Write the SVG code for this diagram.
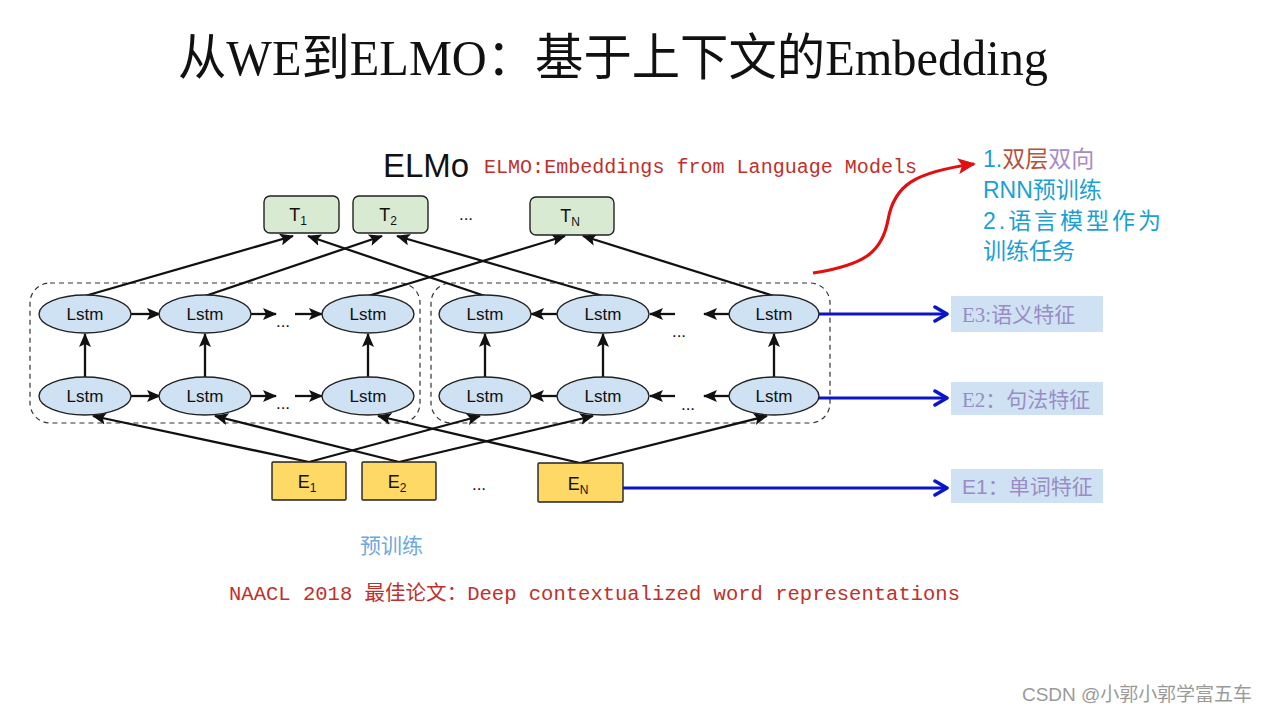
<svg xmlns="http://www.w3.org/2000/svg" width="1268" height="714" viewBox="0 0 1268 714">
<style>
.lstm ellipse{fill:#cfe2f3;stroke:#222;stroke-width:1.4}
.lstm text,.tnode text,.enode text{font-family:"Liberation Sans",Arial,sans-serif;font-size:17px;fill:#111;text-anchor:middle}
.tnode text,.enode text{font-size:18px}
.tnode rect{fill:#d9ead3;stroke:#222;stroke-width:1.4}
.enode rect{fill:#ffd966;stroke:#222;stroke-width:1.4}
.sub{font-size:12px}
.ka{stroke:#111;stroke-width:2.3;fill:none;marker-end:url(#ah)}
.blue{stroke:#0a14c8;stroke-width:3;fill:none;marker-end:url(#bh)}
.dash{fill:none;stroke:#333;stroke-width:1.2;stroke-dasharray:5 4}
.dots{font-family:"Liberation Sans",Arial,sans-serif;font-size:17px;fill:#111;text-anchor:middle}
.lab rect{fill:#cfe2f3}
.lab text{font-family:"Liberation Serif","Noto Sans CJK SC",serif;font-size:21px;fill:#9a8cc4}
.red{font-family:"Liberation Mono","Noto Sans CJK SC",monospace;fill:#c0302a}
.side{font-family:"Liberation Sans","Noto Sans CJK SC",sans-serif;font-size:23px;fill:#1b9fd6}
</style>
<defs>
<marker id="ah" markerUnits="userSpaceOnUse" markerWidth="14" markerHeight="12" viewBox="0 0 14 12" refX="13" refY="6" orient="auto">
<path d="M0,0 L14,6 L0,12 L3,6 Z" fill="#111"/>
</marker>
<marker id="bh" markerUnits="userSpaceOnUse" markerWidth="16" markerHeight="18" viewBox="0 0 16 18" refX="14" refY="9" orient="auto">
<path d="M2,2 L14,9 L2,16" fill="none" stroke="#0a14c8" stroke-width="3.5" stroke-linecap="round" stroke-linejoin="round"/>
</marker>
<marker id="rh" markerUnits="userSpaceOnUse" markerWidth="18" markerHeight="16" viewBox="0 0 18 16" refX="16" refY="8" orient="auto">
<path d="M0,0 L18,8 L0,16 L4,8 Z" fill="#e01010"/>
</marker>
</defs>
<rect width="1268" height="714" fill="#fff"/>

<g id="title">
<text x="178" y="75" font-family="Liberation Serif,'Noto Sans CJK SC',serif" font-size="50" textLength="870" lengthAdjust="spacingAndGlyphs" fill="#111">从WE到ELMO：基于上下文的Embedding</text>
</g>

<g id="elmo-title">
<text x="383" y="177" font-family="Liberation Sans,Arial,sans-serif" font-size="33" fill="#111">ELMo</text>
<text x="484" y="173" class="red" font-size="20" textLength="433" lengthAdjust="spacingAndGlyphs">ELMO:Embeddings from Language Models</text>
</g>

<g id="groups">
<rect class="dash" x="30" y="283" width="390" height="140" rx="20"/>
<rect class="dash" x="431" y="283" width="399" height="140" rx="20"/>
</g>

<g id="connectors">
<line class="ka" x1="85" y1="296" x2="293" y2="236"/>
<line class="ka" x1="205" y1="296" x2="382" y2="236"/>
<line class="ka" x1="368" y1="296" x2="565" y2="236"/>
<line class="ka" x1="485" y1="296" x2="308" y2="236"/>
<line class="ka" x1="603" y1="296" x2="397" y2="236"/>
<line class="ka" x1="774" y1="296" x2="583" y2="236"/>
<line class="ka" x1="309" y1="462" x2="93" y2="416"/>
<line class="ka" x1="399" y1="462" x2="215" y2="416"/>
<line class="ka" x1="580" y1="463" x2="378" y2="416"/>
<line class="ka" x1="309" y1="462" x2="480" y2="416"/>
<line class="ka" x1="399" y1="462" x2="593" y2="416"/>
<line class="ka" x1="580" y1="463" x2="767" y2="416"/>
<line class="ka" x1="85" y1="377" x2="85" y2="334"/>
<line class="ka" x1="205" y1="377" x2="205" y2="334"/>
<line class="ka" x1="368" y1="377" x2="368" y2="334"/>
<line class="ka" x1="485" y1="377" x2="485" y2="334"/>
<line class="ka" x1="603" y1="377" x2="603" y2="334"/>
<line class="ka" x1="774" y1="377" x2="774" y2="334"/>
<line class="ka" x1="131" y1="314" x2="160" y2="314"/>
<line class="ka" x1="251" y1="314" x2="276" y2="314"/>
<line class="ka" x1="295" y1="314" x2="322" y2="314"/>
<line class="ka" x1="131" y1="396" x2="160" y2="396"/>
<line class="ka" x1="251" y1="396" x2="276" y2="396"/>
<line class="ka" x1="295" y1="396" x2="322" y2="396"/>
<line class="ka" x1="558" y1="314" x2="531" y2="314"/>
<line class="ka" x1="675" y1="314" x2="650" y2="314"/>
<line class="ka" x1="729" y1="314" x2="704" y2="314"/>
<line class="ka" x1="558" y1="396" x2="531" y2="396"/>
<line class="ka" x1="675" y1="396" x2="650" y2="396"/>
<line class="ka" x1="729" y1="396" x2="704" y2="396"/>
<line class="blue" x1="819" y1="314" x2="947" y2="314"/>
<line class="blue" x1="819" y1="398" x2="947" y2="398"/>
<line class="blue" x1="623" y1="488" x2="947" y2="488"/>
<path d="M813,273 C865,265 882,252 888,220 C894,185 915,172 974,164" fill="none" stroke="#e01010" stroke-width="3.2" marker-end="url(#rh)"/>
</g>

<g id="dots">
<text class="dots" x="466" y="220">...</text>
<text class="dots" x="479" y="490">...</text>
<text class="dots" x="283" y="327">...</text>
<text class="dots" x="283" y="409">...</text>
<text class="dots" x="679" y="337">...</text>
<text class="dots" x="688" y="410">...</text>
</g>

<g id="T1" class="tnode"><rect x="264" y="196" width="75" height="37" rx="6"/><text x="298" y="221">T<tspan class="sub" dy="4">1</tspan></text></g>
<g id="T2" class="tnode"><rect x="353" y="196" width="75" height="37" rx="6"/><text x="388" y="221">T<tspan class="sub" dy="4">2</tspan></text></g>
<g id="TN" class="tnode"><rect x="530" y="197" width="84" height="38" rx="6"/><text x="570" y="222">T<tspan class="sub" dy="4">N</tspan></text></g>

<g id="LF1" class="lstm"><ellipse cx="85" cy="314" rx="46" ry="19"/><text x="85" y="320">Lstm</text></g>
<g id="LF2" class="lstm"><ellipse cx="205" cy="314" rx="46" ry="19"/><text x="205" y="320">Lstm</text></g>
<g id="LF3" class="lstm"><ellipse cx="368" cy="314" rx="46" ry="19"/><text x="368" y="320">Lstm</text></g>
<g id="LB1" class="lstm"><ellipse cx="85" cy="396" rx="46" ry="19"/><text x="85" y="402">Lstm</text></g>
<g id="LB2" class="lstm"><ellipse cx="205" cy="396" rx="46" ry="19"/><text x="205" y="402">Lstm</text></g>
<g id="LB3" class="lstm"><ellipse cx="368" cy="396" rx="46" ry="19"/><text x="368" y="402">Lstm</text></g>
<g id="RF1" class="lstm"><ellipse cx="485" cy="314" rx="46" ry="19"/><text x="485" y="320">Lstm</text></g>
<g id="RF2" class="lstm"><ellipse cx="603" cy="314" rx="46" ry="19"/><text x="603" y="320">Lstm</text></g>
<g id="RF3" class="lstm"><ellipse cx="774" cy="314" rx="45" ry="19"/><text x="774" y="320">Lstm</text></g>
<g id="RB1" class="lstm"><ellipse cx="485" cy="396" rx="46" ry="19"/><text x="485" y="402">Lstm</text></g>
<g id="RB2" class="lstm"><ellipse cx="603" cy="396" rx="46" ry="19"/><text x="603" y="402">Lstm</text></g>
<g id="RB3" class="lstm"><ellipse cx="774" cy="396" rx="45" ry="19"/><text x="774" y="402">Lstm</text></g>

<g id="E1" class="enode"><rect x="272" y="462" width="74" height="38" rx="1"/><text x="307" y="488">E<tspan class="sub" dy="4">1</tspan></text></g>
<g id="E2" class="enode"><rect x="362" y="462" width="74" height="38" rx="1"/><text x="397" y="488">E<tspan class="sub" dy="4">2</tspan></text></g>
<g id="EN" class="enode"><rect x="538" y="463" width="85" height="39" rx="1"/><text x="578" y="490">E<tspan class="sub" dy="4">N</tspan></text></g>

<g id="lab3" class="lab"><rect x="951" y="296" width="152" height="36"/><text x="962" y="322">E3:语义特征</text></g>
<g id="lab2" class="lab"><rect x="951" y="382" width="152" height="33"/><text x="962" y="407">E2：句法特征</text></g>
<g id="lab1" class="lab"><rect x="951" y="469" width="152" height="34"/><text x="962" y="494"><tspan font-family="Liberation Sans,sans-serif">E1</tspan>：单词特征</text></g>

<g id="side-note">
<text class="side" x="983" y="167">1.<tspan fill="#b5523b">双层</tspan><tspan fill="#a58cc8">双向</tspan></text>
<text class="side" x="983" y="198">RNN预训练</text>
<text class="side" x="983" y="229" textLength="178">2.语言模型作为</text>
<text class="side" x="983" y="259">训练任务</text>
</g>

<g id="pretrain">
<text x="360" y="553" font-family="Liberation Serif,'Noto Sans CJK SC',serif" font-size="21" fill="#6fa8dc">预训练</text>
</g>

<g id="paper">
<text x="229" y="600" class="red" font-size="20" textLength="731" lengthAdjust="spacingAndGlyphs">NAACL 2018 最佳论文：Deep contextualized word representations</text>
</g>

<g id="watermark">
<text x="1022" y="701" font-family="Liberation Sans,'Noto Sans CJK SC',sans-serif" font-size="19" textLength="230" fill="#9a9a9a">CSDN @小郭小郭学富五车</text>
</g>
</svg>
